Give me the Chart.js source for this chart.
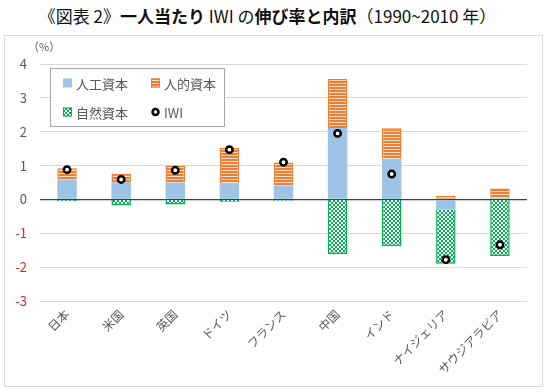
<!DOCTYPE html>
<html>
<head>
<meta charset="utf-8">
<script src="https://cdn.jsdelivr.net/npm/chart.js@4.4.1/dist/chart.umd.min.js"></script>
<style>
    body { margin: 0; background: #fff; width: 547px; height: 392px; position: relative; overflow: hidden; }
    #title {
        position: absolute; left: 0; top: 3px; width: 535px; text-align: center; white-space: nowrap;
        font-family: "Noto Sans CJK JP", sans-serif; font-size: 17px; color: #111;
    }
    #title b { font-weight: bold; }
    #frame {
        position: absolute; left: 4px; top: 35px; width: 539px; height: 352px;
        border: 1px solid #d9d9d9; box-sizing: border-box;
    }
</style>
</head>
<body>
<div id="title">《図表 2》<b>一人当たり</b> IWI の<b>伸び率と内訳</b>（1990~2010 年）</div>
<div id="frame"><canvas id="chart"></canvas></div>
<script>
// 国名
const countries = ['日本', '米国', '英国', 'ドイツ', 'フランス', '中国', 'インド', 'ナイジェリア', 'サウジアラビア'];
// 各資本の寄与（%）
const manmadeCapital = [0.59, 0.51, 0.50, 0.46, 0.41, 2.11, 1.20, -0.30, 0.03];
const humanCapital   = [0.33, 0.25, 0.50, 1.07, 0.68, 1.45, 0.90, 0.10, 0.29];
const naturalCapital = [-0.05, -0.17, -0.15, -0.07, -0.04, -1.61, -1.38, -1.60, -1.67];
const iwiGrowth      = [0.88, 0.59, 0.86, 1.47, 1.10, 1.95, 0.75, -1.78, -1.34];
const yTicks = [4, 3, 2, 1, 0, -1, -2, -3];

const FONT = '"Noto Sans CJK JP", sans-serif';
const BLUE = '#9dc3e6';
const ORANGE = '#ed7d31';
const GREEN = '#00b050';

function makeStripe() {
    const c = document.createElement('canvas');
    c.width = 4; c.height = 3;
    const x = c.getContext('2d');
    x.fillStyle = ORANGE; x.fillRect(0, 0, 4, 3);
    x.fillStyle = '#fbe0cf'; x.fillRect(0, 2, 4, 1);
    return x.createPattern(c, 'repeat');
}

function makeCheck() {
    const c = document.createElement('canvas');
    c.width = 4; c.height = 4;
    const x = c.getContext('2d');
    x.fillStyle = '#ffffff'; x.fillRect(0, 0, 4, 4);
    x.fillStyle = GREEN;
    x.fillRect(0, 0, 2, 2);
    x.fillRect(2, 2, 2, 2);
    return x.createPattern(c, 'repeat');
}

const stripe = makeStripe();
const check = makeCheck();

// 凡例（プロット内・2列）
const boxLegend = {
    id: 'boxLegend',
    afterDraw(chart) {
        const ctx = chart.ctx;
        const a = chart.chartArea;
        const bx = a.left + 10, by = a.top + 4, bw = 174, bh = 58;
        ctx.save();
        ctx.fillStyle = '#fff';
        ctx.fillRect(bx, by, bw, bh);
        ctx.strokeStyle = '#a6a6a6';
        ctx.lineWidth = 1;
        ctx.strokeRect(bx + 0.5, by + 0.5, bw, bh);

        ctx.font = '13px ' + FONT;
        ctx.fillStyle = '#595959';
        ctx.textBaseline = 'middle';
        const items = [
            { label: '人工資本', col: 0, row: 0, kind: 'blue' },
            { label: '人的資本', col: 1, row: 0, kind: 'orange' },
            { label: '自然資本', col: 0, row: 1, kind: 'green' },
            { label: 'IWI', col: 1, row: 1, kind: 'dot' }
        ];
        items.forEach(it => {
            const ix = bx + 13 + it.col * 88;
            const iy = by + 15 + it.row * 29;
            if (it.kind === 'dot') {
                ctx.beginPath();
                ctx.arc(ix + 4.5, iy, 3, 0, Math.PI * 2);
                ctx.fillStyle = '#fff';
                ctx.fill();
                ctx.lineWidth = 2.5;
                ctx.strokeStyle = '#000';
                ctx.stroke();
            } else {
                ctx.fillStyle = it.kind === 'blue' ? BLUE : (it.kind === 'orange' ? stripe : check);
                ctx.fillRect(ix, iy - 4.5, 9, 9);
                if (it.kind !== 'blue') {
                    ctx.strokeStyle = it.kind === 'orange' ? ORANGE : GREEN;
                    ctx.lineWidth = 1;
                    ctx.strokeRect(ix + 0.5, iy - 4, 8, 8);
                }
            }
            ctx.fillStyle = '#595959';
            ctx.fillText(it.label, ix + 13, iy + 1);
        });

        // 単位
        ctx.font = '11px ' + FONT;
        ctx.fillText('（%）', a.left - 12, a.top - 17);
        ctx.restore();
    }
};

new Chart(document.getElementById('chart'), {
    type: 'bar',
    data: {
        labels: countries,
        datasets: [
            {
                label: '人工資本',
                data: manmadeCapital,
                backgroundColor: BLUE,
                borderWidth: 0,
                stack: 's',
                order: 2
            },
            {
                label: '人的資本',
                data: humanCapital,
                backgroundColor: stripe,
                borderColor: ORANGE,
                borderWidth: 1.5,
                stack: 's',
                order: 2
            },
            {
                label: '自然資本',
                data: naturalCapital,
                backgroundColor: check,
                borderColor: GREEN,
                borderWidth: 1.5,
                stack: 's',
                order: 2
            },
            {
                type: 'line',
                label: 'IWI',
                data: iwiGrowth,
                showLine: false,
                stack: 'iwi',
                pointStyle: 'circle',
                pointRadius: 3.2,
                pointBorderWidth: 2.5,
                pointBackgroundColor: '#fff',
                pointBorderColor: '#000',
                order: 1
            }
        ]
    },
    options: {
        responsive: true,
        maintainAspectRatio: false,
        animation: false,
        barPercentage: 0.36,
        categoryPercentage: 1,
        layout: { padding: { left: 0, right: 15, top: 28, bottom: 0 } },
        plugins: {
            legend: { display: false },
            tooltip: { enabled: false }
        },
        scales: {
            x: {
                stacked: true,
                grid: { display: false, drawTicks: false },
                border: { display: false },
                ticks: {
                    color: '#595959',
                    font: { family: FONT, size: 12 },
                    minRotation: 45,
                    maxRotation: 45,
                    padding: 6
                },
                afterFit(scale) { scale.height = 85; }
            },
            y: {
                stacked: true,
                min: -3,
                max: 4,
                afterBuildTicks(scale) { scale.ticks = yTicks.map(v => ({ value: v })); },
                grid: {
                    drawTicks: false,
                    color: ctx => ctx.tick && ctx.tick.value === 0 ? '#404040' : '#d9d9d9',
                    lineWidth: ctx => ctx.tick && ctx.tick.value === 0 ? 1.2 : 1
                },
                border: { display: false },
                ticks: {
                    color: ctx => ctx.tick.value < 0 ? '#d62728' : '#595959',
                    font: { family: FONT, size: 13 },
                    padding: 13
                },
                afterFit(scale) { scale.width = 35; }
            }
        }
    },
    plugins: [boxLegend]
});
</script>
</body>
</html>
